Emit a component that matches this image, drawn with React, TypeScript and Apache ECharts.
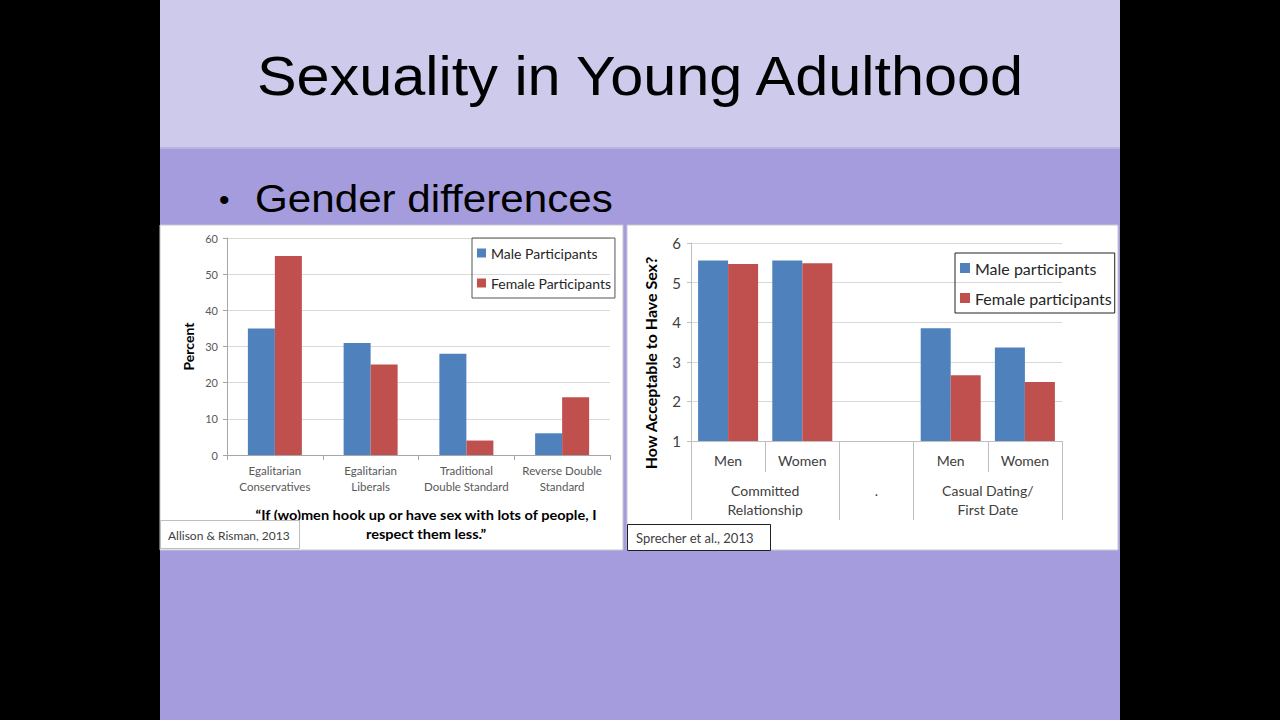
import React, { useEffect, useRef } from "react";
import * as echarts from "echarts";

const titleText = "Sexuality in Young Adulthood";
const bulletText = "Gender differences";

const leftCategories = [
  "Egalitarian\nConservatives",
  "Egalitarian\nLiberals",
  "Traditional\nDouble Standard",
  "Reverse Double\nStandard",
];
const leftMale = [35, 31, 28, 6];
const leftFemale = [55, 25, 4, 16];
const leftSeriesNames = ["Male Participants", "Female Participants"];
const leftQuote = "\u201cIf (wo)men hook up or have sex with lots of people, I\nrespect them less.\u201d";
const leftCitation = "Allison & Risman, 2013";

const rightCategories = ["Men", "Women", "", "Men", "Women"];
const rightMale = [5.56, 5.56, null, 3.85, 3.36];
const rightFemale = [5.47, 5.49, null, 2.66, 2.49];
const rightSeriesNames = ["Male participants", "Female participants"];
const rightGroups = ["Committed\nRelationship", ".", "Casual Dating/\nFirst Date"];
const rightGroupSpans = [2, 1, 2];
const rightCitation = "Sprecher et al., 2013";

const BLUE = "#4F81BD";
const RED = "#C0504D";
const FONT = "Lato, 'Open Sans', sans-serif";
const SANS = "'Liberation Sans', Arial, sans-serif";

export default function App() {
  const ref = useRef<HTMLDivElement>(null);

  useEffect(() => {
    if (!ref.current) return;
    const chart = echarts.init(ref.current, null, { renderer: "svg" });

    const bounds: number[] = [0];
    rightGroupSpans.forEach((s) => bounds.push(bounds[bounds.length - 1] + s));
    const centers = rightGroupSpans.map((s, i) => bounds[i] + s / 2);

    const option: any = {
      animation: false,
      backgroundColor: "#000000",
      textStyle: { fontFamily: FONT },
      graphic: [
        { type: "rect", z: -10, shape: { x: 160, y: 0, width: 960, height: 148 }, style: { fill: "#CDCAEC" } },
        { type: "rect", z: -10, shape: { x: 160, y: 148, width: 960, height: 572 }, style: { fill: "#A49CDD" } },
        { type: "rect", z: -10, shape: { x: 160, y: 147, width: 960, height: 2 }, style: { fill: "#B9B3E4" } },
        { type: "rect", z: -9, shape: { x: 160, y: 225, width: 463, height: 325 }, style: { fill: "#FFFFFF", stroke: "#C8C8D0", lineWidth: 1 } },
        { type: "rect", z: -9, shape: { x: 627, y: 225, width: 491, height: 325 }, style: { fill: "#FFFFFF", stroke: "#C8C8D0", lineWidth: 1 } },
        {
          type: "text", x: 640, y: 76, scaleX: 1.08,
          style: { text: titleText, fontFamily: SANS, fontSize: 55, fill: "#000", align: "center", verticalAlign: "middle" },
        },
        {
          type: "text", x: 219, y: 199,
          style: { text: "\u2022", fontFamily: SANS, fontSize: 30, fill: "#000", align: "left", verticalAlign: "middle" },
        },
        {
          type: "text", x: 255, y: 199, scaleX: 1.11,
          style: { text: bulletText, fontFamily: SANS, fontSize: 38, fill: "#000", align: "left", verticalAlign: "middle" },
        },
        {
          type: "text", x: 426, y: 524, scaleX: 1.04,
          style: { text: leftQuote, fontFamily: FONT, fontWeight: "bold", fontSize: 14, lineHeight: 19, fill: "#000", align: "center", verticalAlign: "middle" },
        },
        { type: "rect", shape: { x: 160.5, y: 520.5, width: 139, height: 28 }, style: { fill: "#FFFFFF", stroke: "#BDBDBD", lineWidth: 1 } },
        {
          type: "text", x: 168, y: 535,
          style: { text: leftCitation, fontFamily: FONT, fontSize: 12, fill: "#404040", align: "left", verticalAlign: "middle" },
        },
        { type: "rect", shape: { x: 627.5, y: 524.5, width: 143, height: 26 }, style: { fill: "#FFFFFF", stroke: "#202020", lineWidth: 1 } },
        {
          type: "text", x: 636, y: 538,
          style: { text: rightCitation, fontFamily: FONT, fontSize: 13, fill: "#404040", align: "left", verticalAlign: "middle" },
        },
      ],
      legend: [
        {
          data: leftSeriesNames,
          orient: "vertical",
          left: 472,
          top: 238,
          itemWidth: 9,
          itemHeight: 9,
          itemGap: 16,
          icon: "rect",
          borderColor: "#555555",
          borderWidth: 1,
          padding: [8, 4, 8, 5],
          textStyle: { fontFamily: FONT, fontSize: 14, color: "#262626" },
        },
        {
          data: rightSeriesNames,
          orient: "vertical",
          left: 955,
          top: 253,
          itemWidth: 10,
          itemHeight: 10,
          itemGap: 14,
          icon: "rect",
          borderColor: "#222222",
          borderWidth: 1,
          padding: [7, 3, 7, 5],
          textStyle: { fontFamily: FONT, fontSize: 16, color: "#262626" },
        },
      ],
      grid: [
        { left: 227, top: 238, right: 1280 - 610, bottom: 720 - 455 },
        { left: 691, top: 243, right: 1280 - 1062, bottom: 720 - 441 },
      ],
      xAxis: [
        {
          type: "category",
          gridIndex: 0,
          data: leftCategories,
          axisLine: { lineStyle: { color: "#A6A6A6" } },
          axisTick: { show: true, length: 5, lineStyle: { color: "#A6A6A6" } },
          axisLabel: { interval: 0, margin: 7, fontSize: 11.5, lineHeight: 16, color: "#595959", fontFamily: FONT },
        },
        {
          type: "category",
          gridIndex: 1,
          data: rightCategories,
          axisLine: { lineStyle: { color: "#BFBFBF" } },
          axisTick: { show: true, interval: 0, length: 31, lineStyle: { color: "#BFBFBF" } },
          axisLabel: { interval: 0, margin: 12, fontSize: 14, color: "#404040", fontFamily: FONT },
        },
        {
          type: "value",
          gridIndex: 1,
          position: "bottom",
          min: bounds[0],
          max: bounds[bounds.length - 1],
          axisLine: { show: false },
          splitLine: { show: false },
          axisTick: { show: true, customValues: bounds, length: 79, lineStyle: { color: "#BFBFBF" } },
          axisLabel: {
            customValues: centers,
            margin: 40,
            fontSize: 14,
            lineHeight: 19,
            color: "#404040",
            fontFamily: FONT,
            formatter: (v: number) => {
              const i = centers.findIndex((c) => Math.abs(c - v) < 1e-6);
              return i >= 0 ? rightGroups[i] : "";
            },
          },
        },
      ],
      yAxis: [
        {
          type: "value",
          gridIndex: 0,
          min: 0,
          max: 60,
          interval: 10,
          name: "Percent",
          nameLocation: "middle",
          nameGap: 32,
          nameRotate: 90,
          nameTextStyle: { fontFamily: FONT, fontSize: 14, fontWeight: "bold", color: "#000" },
          axisLine: { show: true, lineStyle: { color: "#A6A6A6" } },
          axisTick: { show: true, length: 4, lineStyle: { color: "#A6A6A6" } },
          axisLabel: { margin: 9, fontSize: 11, color: "#595959", fontFamily: FONT },
          splitLine: { lineStyle: { color: "#D9D9D9" } },
        },
        {
          type: "value",
          gridIndex: 1,
          min: 1,
          max: 6,
          interval: 1,
          name: "How Acceptable to Have Sex?",
          nameLocation: "middle",
          nameGap: 33,
          nameRotate: 90,
          nameTextStyle: { fontFamily: FONT, fontSize: 16, fontWeight: "bold", color: "#000", padding: [0, 42, 0, 0] },
          axisLine: { show: true, lineStyle: { color: "#BFBFBF" } },
          axisTick: { show: true, length: 4, lineStyle: { color: "#BFBFBF" } },
          axisLabel: { margin: 10, fontSize: 15, color: "#404040", fontFamily: FONT },
          splitLine: { lineStyle: { color: "#D9D9D9" } },
        },
      ],
      series: [
        { name: leftSeriesNames[0], type: "bar", xAxisIndex: 0, yAxisIndex: 0, data: leftMale, barWidth: 27, barGap: "0%", itemStyle: { color: BLUE } },
        { name: leftSeriesNames[1], type: "bar", xAxisIndex: 0, yAxisIndex: 0, data: leftFemale, barWidth: 27, barGap: "0%", itemStyle: { color: RED } },
        { name: rightSeriesNames[0], type: "bar", xAxisIndex: 1, yAxisIndex: 1, data: rightMale, barWidth: 30, barGap: "0%", itemStyle: { color: BLUE } },
        { name: rightSeriesNames[1], type: "bar", xAxisIndex: 1, yAxisIndex: 1, data: rightFemale, barWidth: 30, barGap: "0%", itemStyle: { color: RED } },
      ],
    };

    chart.setOption(option);
    return () => chart.dispose();
  }, []);

  return (
    <div
      ref={ref}
      style={{ position: "fixed", left: 0, top: 0, width: 1280, height: 720, background: "#000" }}
    />
  );
}
